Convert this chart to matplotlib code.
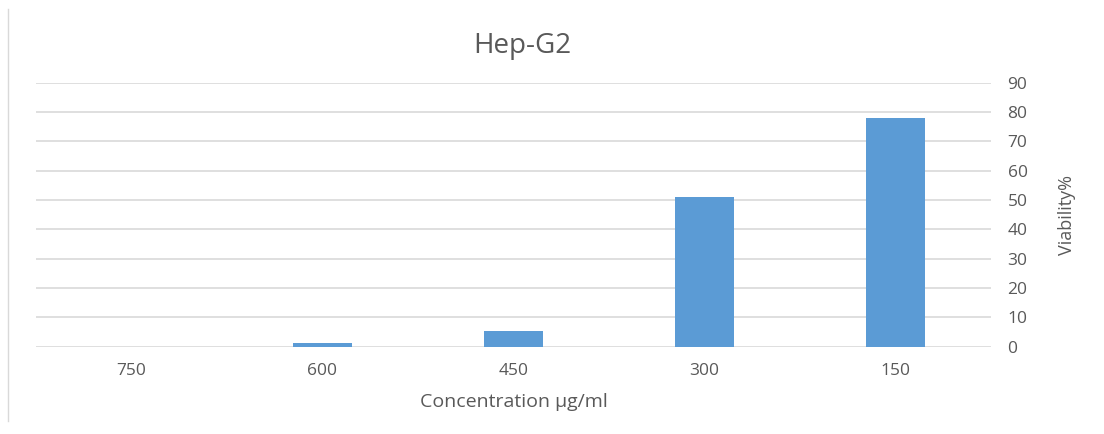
import matplotlib
matplotlib.use("Agg")
import matplotlib.pyplot as plt
from matplotlib.lines import Line2D

concentrations = ["750", "600", "450", "300", "150"]
viability = [0, 1.2, 5.5, 50.9, 77.9]
y_ticks = [0, 10, 20, 30, 40, 50, 60, 70, 80, 90]

plt.rcParams["font.family"] = ["Open Sans", "DejaVu Sans"]
text_col = "#595959"

fig = plt.figure(figsize=(11.04, 4.34), dpi=100)
ax = fig.add_axes([0.0326, 0.2011, 0.865, 0.6083])

x = range(len(concentrations))
ax.bar(x, viability, width=0.31, color="#5B9BD5", zorder=3)
ax.set_xlim(-0.5, len(concentrations) - 0.5)
ax.set_ylim(0, 90)
ax.set_yticks(y_ticks)
ax.set_xticks(list(x))
ax.set_xticklabels(concentrations)

ax.yaxis.tick_right()
ax.yaxis.set_label_position("right")
ax.grid(axis="y", color="#D9D9D9", linewidth=1.2, zorder=0)
for s in ax.spines.values():
    s.set_visible(False)
ax.tick_params(length=0, colors=text_col, labelsize=12.5)
ax.tick_params(axis="x", pad=12)
ax.tick_params(axis="y", pad=12)

ax.set_ylabel("Viability%", color=text_col, fontsize=13, labelpad=22)
ax.set_xlabel("Concentration µg/ml", color=text_col, fontsize=14, labelpad=10)
fig.text(0.473, 0.893, "Hep-G2", ha="center", va="center", fontsize=20, color=text_col)

# left frame edge of the chart
fig.add_artist(Line2D([0.0075, 0.0075], [0.03, 0.98], transform=fig.transFigure,
                      color="#D9D9D9", linewidth=1))

fig.savefig("out.png", dpi=100)
